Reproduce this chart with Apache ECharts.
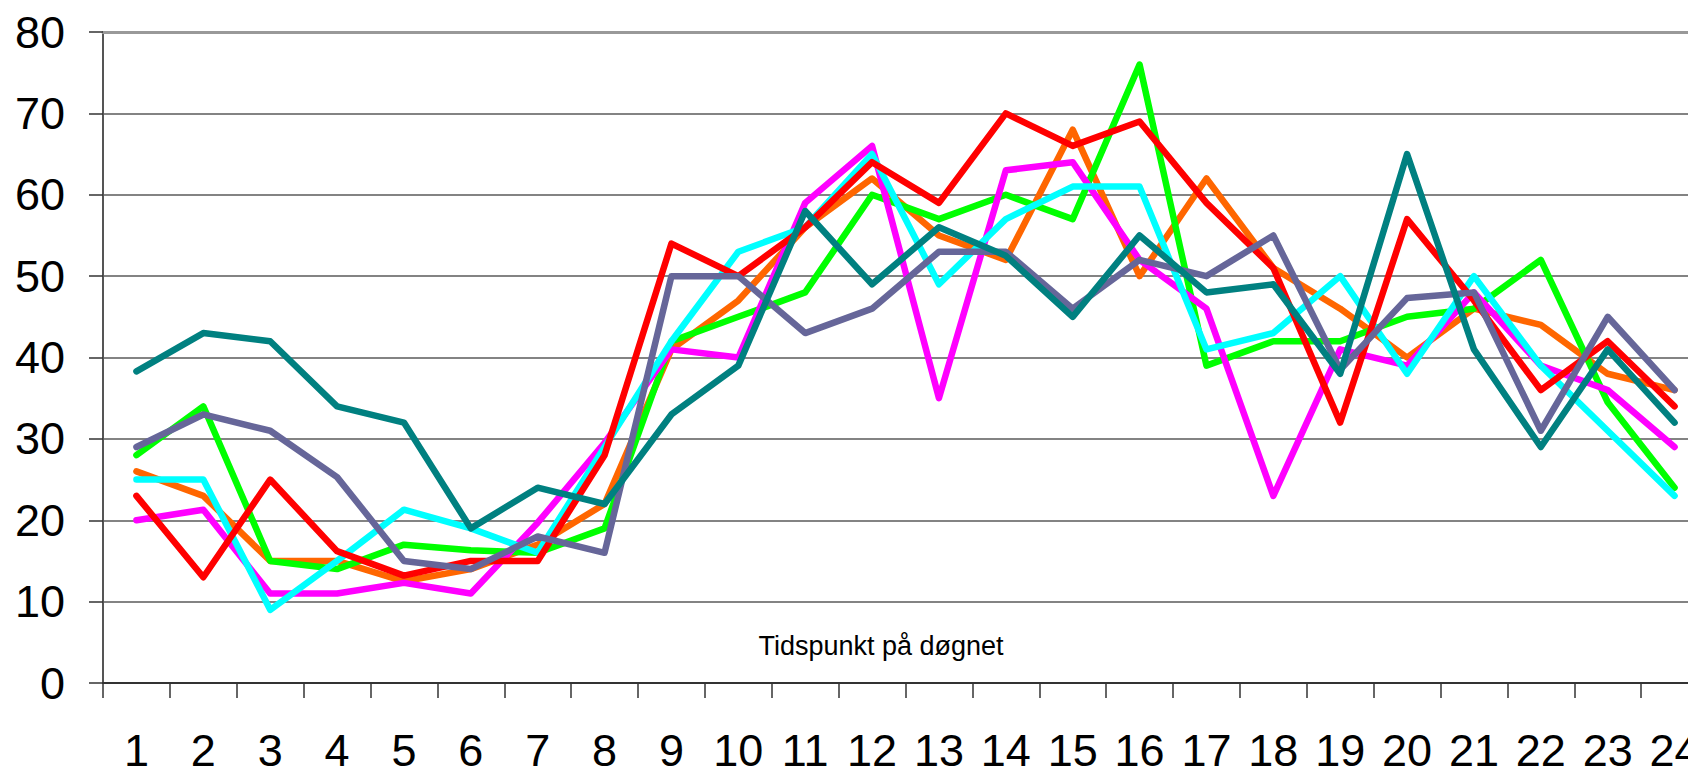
<!DOCTYPE html>
<html>
<head>
<meta charset="utf-8">
<script src="https://cdn.jsdelivr.net/npm/echarts@6/dist/echarts.min.js"></script>
<style>
html,body{margin:0;padding:0;background:#fff;overflow:hidden;}
#chart{width:1688px;height:769px;}
</style>
</head>
<body>
<div id="chart"></div>
<script>
const hours = ['1','2','3','4','5','6','7','8','9','10','11','12','13','14','15','16','17','18','19','20','21','22','23','24'];
const yTicks = [0,10,20,30,40,50,60,70,80];
const axisTitle = 'Tidspunkt på døgnet';

const seriesOrange  = [26,23,15,15,12.5,14,17,22,41,47,56,62,55,52,68,50,62,51,46,40,46,44,38,36];
const seriesGreen   = [28,34,15,14,17,16.3,16,19,42,45,48,60,57,60,57,76,39,42,42,45,46,52,34.5,24];
const seriesMagenta = [20,21.3,11,11,12.3,11,19.7,29.5,41,40,59,66,35,63,64,52,46,23,41,39,48,39,36,29];
const seriesCyan    = [25,25,9,15,21.3,19,16,29,42,53,56,65,49,57,61,61,41,43,50,38,50,39,31,23];
const seriesRed     = [23,13,25,16.2,13.2,15,15,28,54,50,56,64,59,70,66,69,59,51,32,57,47,36,42,34];
const seriesSlate   = [29,33,31,25.3,15,14,18,16,50,50,43,46,53,53,46,52,50,55,38.5,47.3,48,31,45,36];
const seriesTeal    = [38.3,43,42,34,32,19,24,22,33,39,58,49,56,52.5,45,55,48,49,38,65,41,29,41,32];

const seriesDefs = [
  {name:'A', data: seriesOrange,  color:'#FF6600'},
  {name:'B', data: seriesGreen,   color:'#00FF00'},
  {name:'C', data: seriesMagenta, color:'#FF00FF'},
  {name:'D', data: seriesCyan,    color:'#00FFFF'},
  {name:'E', data: seriesRed,     color:'#FF0000'},
  {name:'F', data: seriesSlate,   color:'#666699'},
  {name:'G', data: seriesTeal,    color:'#008080'}
];

const FONT = '"Liberation Sans", Arial, sans-serif';
const chart = echarts.init(document.getElementById('chart'), null, {renderer:'svg'});
chart.setOption({
  animation:false,
  backgroundColor:'#fff',
  grid:{left:103, top:32, width:1605, height:651, containLabel:false, outerBoundsMode:'none'},
  xAxis:[{
    type:'category',
    data:hours,
    boundaryGap:true,
    position:'bottom',
    axisLine:{lineStyle:{color:'#333', width:2}},
    axisTick:{show:true, length:15, alignWithLabel:false, lineStyle:{color:'#333', width:1.5}},
    axisLabel:{margin:45, fontSize:45, color:'#000', fontFamily:FONT, interval:0},
    splitLine:{show:false},
    name:axisTitle,
    nameLocation:'middle',
    nameGap:-37,
    nameTextStyle:{fontSize:27, color:'#000', fontFamily:FONT, verticalAlign:'middle', padding:[0,49,0,0]}
  },{
    type:'category',
    data:hours,
    position:'top',
    axisLine:{show:true, lineStyle:{color:'#999', width:3}},
    axisTick:{show:false},
    axisLabel:{show:false},
    splitLine:{show:false}
  }],
  yAxis:{
    type:'value',
    min:yTicks[0], max:yTicks[yTicks.length-1], interval:10,
    axisLine:{show:true, lineStyle:{color:'#555', width:2}},
    axisTick:{show:true, length:14, lineStyle:{color:'#333', width:1.5}},
    axisLabel:{margin:38, fontSize:45, color:'#000', fontFamily:FONT},
    splitLine:{show:true, lineStyle:{color:'#5a5a5a', width:1.5}}
  },
  series: seriesDefs.map(s => ({
    name:s.name, type:'line', data:s.data, symbol:'none',
    lineStyle:{color:s.color, width:6.5, cap:'round', join:'round'},
    itemStyle:{color:s.color}
  }))
});
</script>
</body>
</html>
